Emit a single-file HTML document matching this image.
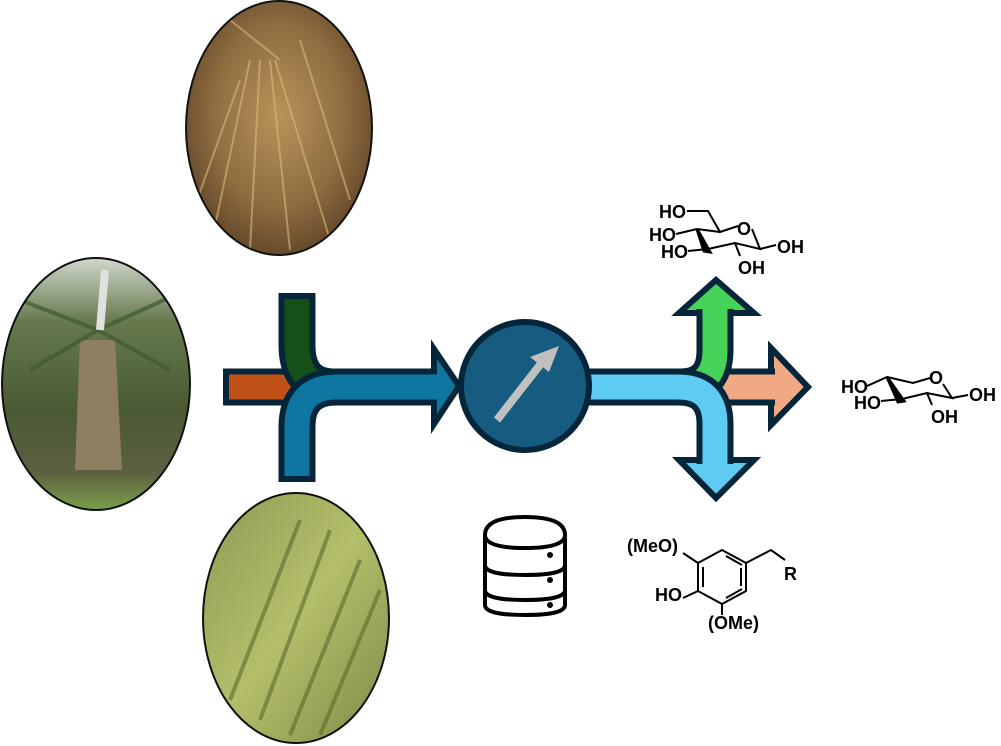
<!DOCTYPE html>
<html><head><meta charset="utf-8"><style>
html,body{margin:0;padding:0;background:#fff;}
svg{display:block;}
text{font-family:"Liberation Sans",sans-serif;font-weight:bold;font-size:18px;fill:#000;}
</style></head><body>
<svg width="1001" height="746" viewBox="0 0 1001 746" xmlns="http://www.w3.org/2000/svg">
<defs>
<radialGradient id="straw" cx="50%" cy="45%" r="60%"><stop offset="0" stop-color="#b8935a"/><stop offset="0.6" stop-color="#8f6c40"/><stop offset="1" stop-color="#5a4226"/></radialGradient>
<linearGradient id="palm" x1="0" y1="0" x2="0" y2="1"><stop offset="0" stop-color="#d0d8cc"/><stop offset="0.25" stop-color="#667a4e"/><stop offset="0.6" stop-color="#4a5a34"/><stop offset="0.85" stop-color="#5c6040"/><stop offset="1" stop-color="#7aa04a"/></linearGradient>
<linearGradient id="cane" x1="0" y1="0" x2="1" y2="1"><stop offset="0" stop-color="#8f9a55"/><stop offset="0.5" stop-color="#b4be6a"/><stop offset="1" stop-color="#7f8a46"/></linearGradient>
<clipPath id="c1"><ellipse cx="279" cy="128" rx="93" ry="127"/></clipPath>
<clipPath id="c2"><ellipse cx="96" cy="384" rx="94" ry="126"/></clipPath>
</defs>
<ellipse cx="279" cy="128" rx="93" ry="127" fill="url(#straw)"/>
<g clip-path="url(#c1)" stroke="#d9b77a" stroke-width="2" opacity="0.6">
<line x1="250" y1="60" x2="210" y2="250"/><line x1="260" y1="60" x2="250" y2="250"/><line x1="270" y1="60" x2="290" y2="250"/><line x1="275" y1="60" x2="330" y2="240"/><line x1="240" y1="80" x2="190" y2="220"/>
<line x1="300" y1="40" x2="350" y2="200"/><line x1="230" y1="20" x2="280" y2="60"/>
</g>
<ellipse cx="279" cy="128" rx="93" ry="127" fill="none" stroke="#111" stroke-width="2"/>
<ellipse cx="96" cy="384" rx="94" ry="126" fill="url(#palm)"/>
<g clip-path="url(#c2)">
<path d="M80 340 L115 340 L122 470 L75 470 Z" fill="#8f7f62"/>
<g stroke="#3e5a2e" stroke-width="4" opacity="0.7">
<line x1="98" y1="330" x2="20" y2="300"/><line x1="98" y1="330" x2="175" y2="295"/><line x1="98" y1="330" x2="30" y2="370"/><line x1="98" y1="330" x2="170" y2="370"/>
</g>
<line x1="100" y1="330" x2="105" y2="270" stroke="#e0e0e0" stroke-width="8"/>
</g>
<ellipse cx="96" cy="384" rx="94" ry="126" fill="none" stroke="#111" stroke-width="2"/>
<ellipse cx="296" cy="618" rx="93" ry="125" fill="url(#cane)" stroke="#111" stroke-width="2"/>
<g stroke="#5f6a2e" stroke-width="4" opacity="0.6">
<line x1="230" y1="700" x2="300" y2="520"/><line x1="260" y1="720" x2="330" y2="530"/><line x1="290" y1="735" x2="360" y2="560"/><line x1="320" y1="735" x2="380" y2="590"/>
</g>

<g stroke-linejoin="miter" fill="none">
<path d="M223 387 L305 387" stroke="#05263a" stroke-width="37"/>
<path d="M229 387 L305 387" stroke="#c05016" stroke-width="25"/>
<path d="M297 293 L297 345 Q297 387 335 387" stroke="#05263a" stroke-width="37"/>
<path d="M297 299 L297 345 Q297 387 335 387" stroke="#155019" stroke-width="25"/>
<polygon points="434,349 459,386 434,424" fill="#0e76a0" stroke="#05263a" stroke-width="6"/>
<path d="M297 482 L297 427 Q297 387 337 387 L437 387" stroke="#05263a" stroke-width="37"/>
<path d="M297 476 L297 427 Q297 387 337 387 L440 387" stroke="#0e76a0" stroke-width="25"/>
<polygon points="771,348 808,387 771,425" fill="#f0a982" stroke="#05263a" stroke-width="6"/>
<path d="M700 387 L775 387" stroke="#05263a" stroke-width="37"/>
<path d="M700 387 L776 387" stroke="#f0a982" stroke-width="25"/>
<polygon points="679,313 754,313 716,280" fill="#45d35a" stroke="#05263a" stroke-width="6"/>
<path d="M715 309 L715 350 Q715 387 680 387" stroke="#05263a" stroke-width="37"/>
<path d="M715 308 L715 350 Q715 387 680 387" stroke="#45d35a" stroke-width="25"/>
<polygon points="679,460 754,460 716,498" fill="#5ecbf2" stroke="#05263a" stroke-width="6"/>
<path d="M585 387 L678 387 Q715 387 715 424 L715 464" stroke="#05263a" stroke-width="37"/>
<path d="M585 387 L678 387 Q715 387 715 424 L715 465" stroke="#5ecbf2" stroke-width="25"/>
</g>
<circle cx="525" cy="386" r="64" fill="#155c80" stroke="#05263a" stroke-width="6"/>
<line x1="497" y1="420" x2="543" y2="361" stroke="#c0c0c0" stroke-width="8"/>
<polygon points="559,346 530,357 549,372" fill="#c0c0c0"/>

<g fill="#fff" stroke="#000" stroke-width="4">
<path d="M485 590 L485 605 Q485 615 525 615 Q565 615 565 605 L565 590"/>
<path d="M485 565 L485 590 Q485 600 525 600 Q565 600 565 590 L565 565"/>
<path d="M485 535 L485 565 Q485 575 525 575 Q565 575 565 565 L565 535"/>
<path d="M485 535 Q485 517 525 517 Q565 517 565 535 Q565 548 525 548 Q485 548 485 535 Z"/>
</g>
<circle cx="550" cy="555" r="3" fill="#000"/><circle cx="550" cy="580" r="3" fill="#000"/><circle cx="550" cy="605" r="3" fill="#000"/>

<!-- glucose -->
<g stroke="#000" stroke-width="2" fill="none">
<polyline points="687,211 708,211 720,232 738,226"/>
<polyline points="752,229 760,249 735,243 708,249"/>
<line x1="760" y1="249" x2="776" y2="245"/>
<line x1="735" y1="243" x2="740" y2="256"/>
<line x1="676" y1="234" x2="697" y2="229"/>
<line x1="697" y1="229" x2="720" y2="232"/>
<line x1="688" y1="251" x2="708" y2="249"/>
</g>
<polygon points="697,229 710,252 704,251" fill="#000" stroke="#000" stroke-width="3"/>
<text x="659" y="218">HO</text>
<text x="737" y="235">O</text>
<text x="777" y="253">OH</text>
<text x="649" y="241">HO</text>
<text x="661" y="258">HO</text>
<text x="738" y="274">OH</text>

<!-- xylose -->
<g stroke="#000" stroke-width="2" fill="none">
<polyline points="867,386 887,377 913,383 930,378"/>
<polyline points="943,384 952,398 927,393 902,399"/>
<line x1="952" y1="398" x2="968" y2="395"/>
<line x1="927" y1="393" x2="932" y2="405"/>
<line x1="881" y1="401" x2="902" y2="399"/>
</g>
<polygon points="887,377 904,401 898,402" fill="#000" stroke="#000" stroke-width="3"/>
<text x="841" y="393">HO</text>
<text x="929" y="384">O</text>
<text x="969" y="401">OH</text>
<text x="854" y="409">HO</text>
<text x="931" y="423">OH</text>

<!-- lignin -->
<g stroke="#000" stroke-width="2" fill="none">
<polygon points="722,550 746,563 746,591 722,604 698,591 698,563"/>
<line x1="726" y1="556" x2="742" y2="565"/>
<line x1="741" y1="568" x2="741" y2="586"/>
<line x1="703" y1="567" x2="703" y2="587"/>
<line x1="726" y1="598" x2="742" y2="589"/>
<polyline points="746,563 771,550 785,560"/>
<line x1="698" y1="563" x2="683" y2="553"/>
<line x1="698" y1="591" x2="683" y2="598"/>
<line x1="722" y1="604" x2="722" y2="615"/>
</g>
<text x="627" y="552">(MeO)</text>
<text x="784" y="580">R</text>
<text x="655" y="601">HO</text>
<text x="708" y="629">(OMe)</text>
</svg>
</body></html>
